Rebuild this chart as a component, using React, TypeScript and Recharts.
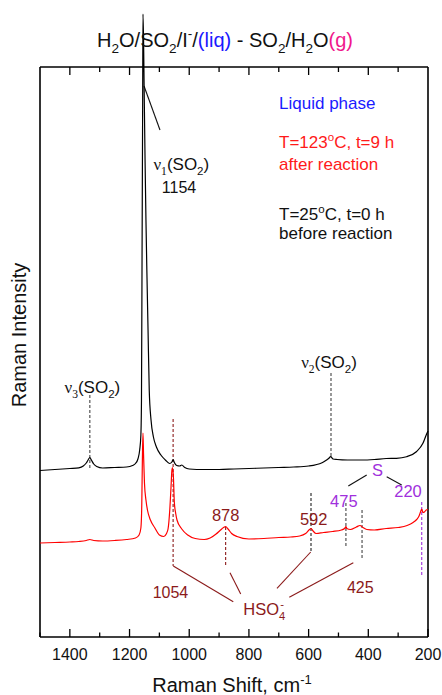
import {
  ComposedChart,
  Line,
  XAxis,
  YAxis,
  ReferenceLine,
  ReferenceDot,
} from "recharts";

const FONT = "'Liberation Sans', Arial, Helvetica, sans-serif";
const SERIF = "'Liberation Serif', 'Times New Roman', serif";
const DARK_RED = "#8b1a1a";
const PURPLE = "#a030dc";

// Raman shift (cm-1) and intensity (a.u.)
const BLACK_SHIFT = [
  1500, 1450, 1400, 1370, 1355, 1345, 1338, 1333, 1328, 1320, 1310, 1290, 1250, 1210, 1190,
  1180, 1172, 1166, 1162, 1160, 1158, 1156, 1155, 1153, 1151, 1148, 1145, 1142, 1138, 1134,
  1128, 1120, 1110, 1095, 1080, 1066, 1058, 1054, 1050, 1042, 1032, 1025, 1015, 1000, 950,
  900, 850, 800, 750, 700, 650, 600, 555, 545, 533, 526, 518, 505, 470, 420,
  380, 340, 306, 272, 239, 217, 206, 200,
];
const BLACK_INT = [
  166.5, 167.5, 168.5, 169.2, 171, 174, 177.5, 179.5, 177, 173, 170.5, 169, 169.5, 170, 171.5,
  173.5, 178, 187, 202, 237, 387, 537, 623, 597, 547, 477, 417, 367, 307, 247,
  217, 200, 190, 182, 177, 173.5, 175, 177.5, 174.5, 171.5, 171, 172, 169.5, 168, 167.5,
  167.5, 168, 168.5, 169, 169.5, 170, 171, 174.3, 176, 178.5, 180.3, 178, 177.5, 177, 177,
  177.5, 178.5, 178.7, 180.3, 185.3, 193.7, 202, 206,
];

const RED_SHIFT = [
  1500, 1450, 1400, 1370, 1345, 1333, 1320, 1290, 1250, 1210, 1180, 1168, 1162, 1159, 1157,
  1155, 1153, 1150, 1145, 1140, 1130, 1115, 1100, 1085, 1077, 1071, 1065, 1061, 1058, 1056,
  1053, 1050, 1045, 1041, 1025, 1005, 980, 950, 930, 910, 895, 885, 878, 870, 858,
  840, 800, 750, 700, 660, 630, 610, 597, 592, 585, 575, 550, 520, 490, 478,
  475, 472, 460, 440, 428, 418, 405, 380, 340, 300, 270, 250, 238, 230, 224,
  221, 217, 212, 206, 200,
];
const RED_INT = [
  94, 94.5, 95, 95.5, 96.5, 97.5, 96.5, 96, 96.5, 97.5, 99, 102, 109, 132, 177,
  204, 182, 154, 137, 127, 117, 109, 102, 100.5, 103, 108, 128, 150, 167, 169.5,
  160, 135, 123, 117, 108, 102, 98.5, 97.5, 99, 103, 107, 109.5, 110.5, 108, 103.5,
  100.5, 98, 98.5, 99.5, 100, 101, 103.5, 107.5, 108.5, 106, 103.5, 104.5, 105.5, 107, 109,
  110.5, 108.5, 107.5, 110, 111.5, 109.5, 107.5, 107, 108.5, 109.5, 111.5, 114.5, 117.5, 121, 126,
  128, 124.5, 125, 127, 127.5,
];

const X_TICKS = [1500, 1400, 1300, 1200, 1100, 1000, 900, 800, 700, 600, 500, 400, 300, 200];
const TOP = 570;

const black = BLACK_SHIFT.map((s, i) => ({ shift: s, v: BLACK_INT[i] }));
const red = RED_SHIFT.map((s, i) => ({ shift: s, v: RED_INT[i] }));

type Run = { t: string; s?: "sub" | "sup"; c?: string; serif?: boolean; dx?: number };

function Rich({ x, y, runs, size, anchor = "start", fill = "#111" }: any) {
  let shift = 0;
  return (
    <text x={x} y={y} fontSize={size} fontFamily={FONT} textAnchor={anchor} fill={fill}>
      {runs.map((r: Run, i: number) => {
        const target = r.s === "sub" ? size * 0.3 : r.s === "sup" ? -size * 0.42 : 0;
        const dy = target - shift;
        shift = target;
        return (
          <tspan
            key={i}
            dy={dy}
            dx={r.dx}
            fontSize={r.s ? size * 0.68 : size}
            fill={r.c}
            fontFamily={r.serif ? SERIF : undefined}
          >
            {r.t}
          </tspan>
        );
      })}
    </text>
  );
}

const NOTES: { x: number; y: number; size: number; anchor?: string; fill?: string; runs: Run[] }[] = [
  {
    x: 880, y: 590.5, size: 20, anchor: "middle",
    runs: [
      { t: "H" }, { t: "2", s: "sub" }, { t: "O/SO" }, { t: "2", s: "sub" }, { t: "/I" },
      { t: "-", s: "sup" }, { t: "/" }, { t: "(liq)", c: "#1a1aff" }, { t: " - SO" },
      { t: "2", s: "sub" }, { t: "/H" }, { t: "2", s: "sub" }, { t: "O" }, { t: "(g)", c: "#f0188c" },
    ],
  },
  { x: 699, y: 527.7, size: 17, fill: "#1a1aff", runs: [{ t: "Liquid phase" }] },
  { x: 699, y: 488.7, size: 17, fill: "#ff1a1a", runs: [{ t: "T=123" }, { t: "o", s: "sup" }, { t: "C, t=9 h" }] },
  { x: 699, y: 467, size: 17, fill: "#ff1a1a", runs: [{ t: "after reaction" }] },
  { x: 699, y: 417, size: 17, runs: [{ t: "T=25" }, { t: "o", s: "sup" }, { t: "C, t=0 h" }] },
  { x: 699, y: 397.7, size: 17, runs: [{ t: "before reaction" }] },
  {
    x: 1120, y: 467, size: 17,
    runs: [{ t: "ν", serif: true }, { t: "1", s: "sub", serif: true }, { t: "(SO" }, { t: "2", s: "sub" }, { t: ")" }],
  },
  { x: 1092, y: 443.7, size: 16, runs: [{ t: "1154" }] },
  {
    x: 1418, y: 244, size: 17,
    runs: [{ t: "ν", serif: true }, { t: "3", s: "sub", serif: true }, { t: "(SO" }, { t: "2", s: "sub" }, { t: ")" }],
  },
  {
    x: 625, y: 269, size: 17,
    runs: [{ t: "ν", serif: true }, { t: "2", s: "sub", serif: true }, { t: "(SO" }, { t: "2", s: "sub" }, { t: ")" }],
  },
  { x: 878, y: 116, size: 16.5, anchor: "middle", fill: DARK_RED, runs: [{ t: "878" }] },
  { x: 583, y: 112, size: 16.5, anchor: "middle", fill: DARK_RED, runs: [{ t: "592" }] },
  { x: 482, y: 130.3, size: 16.5, anchor: "middle", fill: PURPLE, runs: [{ t: "475" }] },
  { x: 267, y: 139.7, size: 16.5, anchor: "middle", fill: PURPLE, runs: [{ t: "220" }] },
  { x: 369, y: 161, size: 16.5, anchor: "middle", fill: PURPLE, runs: [{ t: "S" }] },
  { x: 1063, y: 38.7, size: 16, anchor: "middle", fill: DARK_RED, runs: [{ t: "1054" }] },
  { x: 427, y: 43.7, size: 16, anchor: "middle", fill: DARK_RED, runs: [{ t: "425" }] },
  {
    x: 819, y: 22, size: 16.5, fill: DARK_RED,
    runs: [{ t: "HSO" }, { t: "4", s: "sub" }, { t: "-", s: "sup", dx: -5 }],
  },
];

// dashed peak markers: [shift, from, to, colour]
const MARKERS: [number, number, number, string][] = [
  [1333, 242, 169, "#444"],
  [525, 264, 180, "#444"],
  [1054, 218, 71, DARK_RED],
  [878, 110, 71, DARK_RED],
  [592, 144, 85, "#222"],
  [475, 134, 90, "#444"],
  [421, 127, 77, "#444"],
  [221, 135, 62, PURPLE],
];

// leader lines: [x1, y1, x2, y2, colour]
const LEADERS: [number, number, number, number, string][] = [
  [1151.5, 551, 1098, 507, "#111"],
  [1053.4, 71, 852.4, 35.3, DARK_RED],
  [863.4, 64.3, 827.5, 43, DARK_RED],
  [593, 85, 706, 48.7, DARK_RED],
  [450.3, 74.3, 664.7, 39.7, DARK_RED],
  [467, 151, 405.4, 162, "#111"],
  [338.4, 160.3, 288.2, 152, "#111"],
];

function XTick({ x, y, payload }: any) {
  const v = payload.value;
  const major = v % 200 === 0;
  return (
    <g>
      <line x1={x} x2={x} y1={y} y2={y - (major ? 8 : 4.5)} stroke="#000" strokeWidth={1.3} />
      {major && (
        <text x={x} y={y + 23} textAnchor="middle" fontSize={16} fontFamily={FONT} fill="#111">
          {v}
        </text>
      )}
    </g>
  );
}

export default function App() {
  return (
    <div style={{ position: "absolute", left: 0, top: 0 }}>
      <ComposedChart width={442} height={695} margin={{ top: 14, right: 14, bottom: 0, left: 0 }}>
        <XAxis
          type="number"
          dataKey="shift"
          domain={[200, 1500]}
          reversed
          ticks={X_TICKS}
          interval={0}
          tick={<XTick />}
          tickLine={false}
          tickSize={0}
          tickMargin={0}
          height={58}
          axisLine={{ stroke: "#000", strokeWidth: 1.6 }}
          label={(p: any) => (
            <text
              x={p.viewBox.x + p.viewBox.width / 2 - 2}
              y={p.viewBox.y + 55}
              textAnchor="middle"
              fontSize={20}
              fontFamily={FONT}
              fill="#111"
            >
              Raman Shift, cm<tspan dy={-8} fontSize={13}>-1</tspan>
            </text>
          )}
        />
        <YAxis
          type="number"
          domain={[0, 623]}
          width={40}
          tick={false}
          tickLine={false}
          axisLine={false}
          label={() => (
            <text
              x={26}
              y={335}
              transform="rotate(-90 26 335)"
              textAnchor="middle"
              fontSize={20}
              fontFamily={FONT}
              fill="#111"
            >
              Raman Intensity
            </text>
          )}
        />

        <ReferenceLine y={TOP} stroke="#000" strokeWidth={1.6} />
        <ReferenceLine segment={[{ x: 1500, y: 0 }, { x: 1500, y: TOP }]} stroke="#000" strokeWidth={1.6} />
        <ReferenceLine segment={[{ x: 200, y: 0 }, { x: 200, y: TOP }]} stroke="#000" strokeWidth={1.6} />
        {X_TICKS.slice(1, -1).map((t) => (
          <ReferenceLine
            key={"tt" + t}
            segment={[{ x: t, y: TOP }, { x: t, y: TOP - (t % 200 === 0 ? 8 : 5) }]}
            stroke="#000"
            strokeWidth={1.3}
          />
        ))}

        {MARKERS.map(([s, a, b, c]) => (
          <ReferenceLine
            key={"m" + s}
            segment={[{ x: s, y: a }, { x: s, y: b }]}
            stroke={c}
            strokeWidth={1.1}
            strokeDasharray="3 2"
          />
        ))}
        {LEADERS.map(([x1, y1, x2, y2, c], i) => (
          <ReferenceLine
            key={"l" + i}
            segment={[{ x: x1, y: y1 }, { x: x2, y: y2 }]}
            stroke={c}
            strokeWidth={1.1}
          />
        ))}

        <Line
          data={red}
          dataKey="v"
          type="monotoneX"
          stroke="#ff0000"
          strokeWidth={1.2}
          dot={false}
          activeDot={false}
          isAnimationActive={false}
        />
        <Line
          data={black}
          dataKey="v"
          type="monotoneX"
          stroke="#000"
          strokeWidth={1.2}
          dot={false}
          activeDot={false}
          isAnimationActive={false}
        />

        {NOTES.map((n, i) => (
          <ReferenceDot
            key={"n" + i}
            x={n.x}
            y={n.y}
            r={0}
            ifOverflow="visible"
            shape={(p: any) => (
              <Rich x={p.cx} y={p.cy} runs={n.runs} size={n.size} anchor={n.anchor} fill={n.fill} />
            )}
          />
        ))}
      </ComposedChart>
    </div>
  );
}
